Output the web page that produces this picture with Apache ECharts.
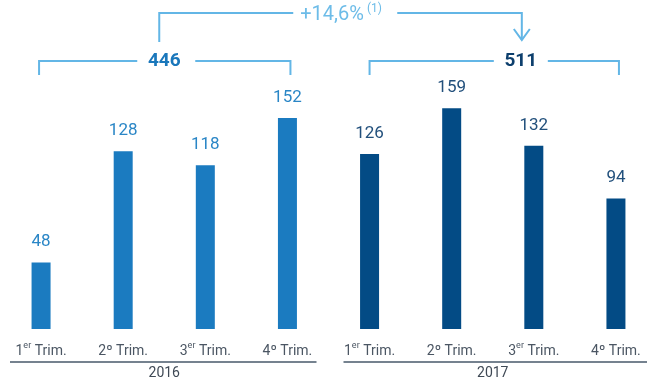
<!DOCTYPE html>
<html>
<head>
<meta charset="utf-8">
<script src="https://cdn.jsdelivr.net/npm/echarts@6/dist/echarts.min.js"></script>
<style>
html, body { margin: 0; padding: 0; background: #fff; }
#chart { width: 657px; height: 383px; }
</style>
</head>
<body>
<div id="chart"></div>
<script>
// datos
const quarters = ['1er Trim.', '2º Trim.', '3er Trim.', '4º Trim.', '1er Trim.', '2º Trim.', '3er Trim.', '4º Trim.'];
const years = ['2016', '2017'];
const values2016 = [48, 128, 118, 152];
const values2017 = [126, 159, 132, 94];
const totals = [446, 511];
const growthLabel = '+14,6%';
const growthNote = '(1)';

const FONT = 'Roboto, "Noto Sans", sans-serif';
const C16 = '#1b7bc0';
const C17 = '#034b85';
const BRACKET = '#63b6e6';

const chart = echarts.init(document.getElementById('chart'));

// 2016 bars in first four slots, 2017 in last four
const data16 = values2016.concat(values2017.map(() => '-'));
const data17 = values2016.map(() => '-').concat(values2017);

function quarterLabel(v) {
  const m = v.match(/^(\d)(er)? ?(.*)$/);
  if (m && m[2]) return '{n|' + m[1] + '}{s|' + m[2] + '}{n| ' + m[3] + '}';
  return '{n|' + v + '}';
}

chart.setOption({
  animation: false,
  grid: { left: 0, width: 657, top: 51.4, bottom: 54 },
  xAxis: [
    {
      type: 'category',
      data: quarters,
      axisLine: { show: false },
      axisTick: { show: false },
      axisLabel: {
        interval: 0,
        margin: 12,
        formatter: quarterLabel,
        rich: {
          n: { fontFamily: FONT, fontSize: 14, color: '#4b5663', lineHeight: 17, verticalAlign: 'bottom' },
          s: { fontFamily: FONT, fontSize: 9, color: '#4b5663', lineHeight: 17, verticalAlign: 'top' }
        }
      }
    },
    {
      type: 'category',
      data: years,
      position: 'bottom',
      offset: 30,
      axisLine: { show: false },
      axisTick: { show: false },
      axisLabel: { margin: 7, fontFamily: FONT, fontSize: 14, color: '#3f4955' }
    }
  ],
  yAxis: { type: 'value', min: 0, max: 200, show: false },
  series: [
    {
      type: 'bar', stack: 'all', data: data16, barWidth: 19,
      itemStyle: { color: C16 },
      label: { show: true, position: 'top', distance: 12, fontFamily: FONT, fontSize: 17, color: '#2a86c6' }
    },
    {
      type: 'bar', stack: 'all', data: data17, barWidth: 19,
      itemStyle: { color: C17 },
      label: { show: true, position: 'top', distance: 12, fontFamily: FONT, fontSize: 17, color: '#22507c' }
    }
  ]
});

// anotaciones: llaves, totales y variación
const xc = quarters.map((q, i) => chart.convertToPixel({ xAxisIndex: 0 }, i));
const base = chart.convertToPixel({ yAxisIndex: 0 }, 0);
const lineStyle = { stroke: BRACKET, lineWidth: 2, fill: null };
const g = [];

function line(points, style) {
  g.push({ type: 'polyline', shape: { points }, style: style || lineStyle, silent: true });
}

// separadores de año
const band = xc[1] - xc[0];
const axisY = base + 33;
const axisStyle = { stroke: '#75828f', lineWidth: 2, fill: null };
line([[xc[0] - band / 2 + 10, axisY], [xc[3] + band / 2 - 12, axisY]], axisStyle);
line([[xc[4] - band / 2 + 15, axisY], [xc[7] + band / 2 - 10, axisY]], axisStyle);

// llave 2016
const by = 61, bt = 75;
const t16 = (xc[0] + xc[3]) / 2;
line([[t16 - 27, by], [xc[0] - 2, by], [xc[0] - 2, bt]]);
line([[t16 + 31, by], [xc[3] + 3, by], [xc[3] + 3, bt]]);
g.push({ type: 'text', x: t16, y: by, style: { text: String(totals[0]), fontFamily: FONT, fontSize: 19, fontWeight: 'bold', fill: '#1a77bb', align: 'center', verticalAlign: 'middle' } });

// llave 2017
const t17 = xc[6] - 13;
line([[t17 - 27, by], [xc[4], by], [xc[4], bt]]);
line([[t17 + 27, by], [xc[7] + 3, by], [xc[7] + 3, bt]]);
g.push({ type: 'text', x: t17, y: by, style: { text: String(totals[1]), fontFamily: FONT, fontSize: 19, fontWeight: 'bold', fill: '#0d3f6d', align: 'center', verticalAlign: 'middle' } });

// variación
const ty = 13;
const left = t16 - 5;
line([[left, 42], [left, ty], [left + 134, ty]]);
line([[left + 238, ty], [t17 + 1, ty], [t17 + 1, 40]]);
line([[t17 - 7, 29], [t17 + 1, 40], [t17 + 9, 29]]);
g.push({
  type: 'text', x: left + 141, y: ty + 1,
  style: {
    text: '{a|' + growthLabel + '}{b| ' + growthNote + '}',
    verticalAlign: 'middle',
    rich: {
      a: { fontFamily: FONT, fontSize: 20, fill: '#6dbce8', color: '#6dbce8', lineHeight: 22, verticalAlign: 'bottom' },
      b: { fontFamily: FONT, fontSize: 12, fill: '#6dbce8', color: '#6dbce8', lineHeight: 22, verticalAlign: 'top' }
    }
  }
});

chart.setOption({ graphic: g });
</script>
</body>
</html>
